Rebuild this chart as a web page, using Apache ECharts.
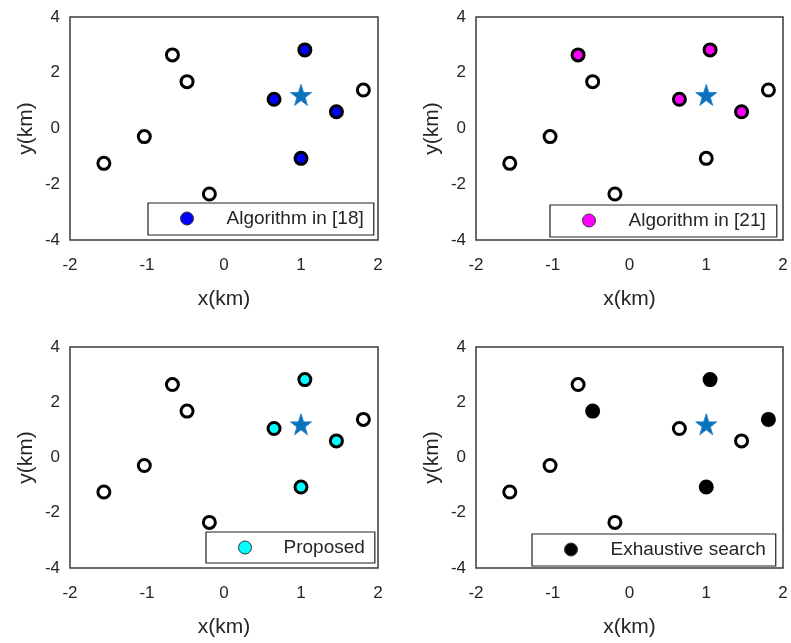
<!DOCTYPE html>
<html>
<head>
<meta charset="utf-8">
<title>Sensor selection</title>
<script src="https://cdn.jsdelivr.net/npm/echarts@6.0.0/dist/echarts.min.js"></script>
<style>
    html, body { margin: 0; padding: 0; background: #fff; }
    #chart { width: 791px; height: 643px; }
</style>
</head>
<body>
<div id="chart"></div>
<script>
// sensor positions (km)
var sensorX = [-0.67, -0.48, -1.035, -1.56, -0.19, 1.05, 0.65, 1.46, 1.81, 1.0];
var sensorY = [2.64, 1.68, -0.29, -1.25, -2.35, 2.82, 1.05, 0.60, 1.38, -1.07];
// target
var targetX = [1.0];
var targetY = [1.24];

// chosen sensors (index into sensorX/sensorY) for each method
var methodNames = ['Algorithm in [18]', 'Algorithm in [21]', 'Proposed', 'Exhaustive search'];
var methodColors = ['#0000ff', '#ff00ff', '#00ffff', '#000000'];
var methodPicked = [
    [5, 6, 7, 9],
    [0, 5, 6, 7],
    [5, 6, 7, 9],
    [1, 5, 8, 9]
];

var xTicks = [-2, -1, 0, 1, 2];
var yTicks = [-4, -2, 0, 2, 4];

var font = "'Liberation Sans', Arial, sans-serif";
var textColor = '#262626';
var starPath = 'path://M50,0 L61.8,35.1 L98.1,35.1 L68.8,56.7 L79.4,90.5 L50,69.4 L20.6,90.5 L31.2,56.7 L1.9,35.1 L38.2,35.1 Z';

// layout of the four panels
var grids = [
    {left: 70, top: 17, width: 308, height: 223},
    {left: 476, top: 17, width: 307, height: 223},
    {left: 70, top: 347, width: 308, height: 221},
    {left: 476, top: 347, width: 307, height: 221}
];
// legend boxes: left, top, padding [t, r, b, l], gap between marker and text
var legendBoxes = [
    {left: 148, top: 203, padding: [6, 10, 7, 32], textGap: 28},
    {left: 550, top: 205, padding: [6, 11, 7, 32], textGap: 28},
    {left: 206, top: 532, padding: [6, 10, 6, 32], textGap: 27},
    {left: 532, top: 534, padding: [6, 10, 7, 32], textGap: 28}
];

var option = {
    animation: false,
    backgroundColor: '#fff',
    textStyle: {fontFamily: font},
    grid: [],
    xAxis: [],
    yAxis: [],
    legend: [],
    series: []
};

for (var g = 0; g < 4; g++) {
    option.grid.push({
        left: grids[g].left,
        top: grids[g].top,
        width: grids[g].width,
        height: grids[g].height,
        show: true,
        borderColor: '#3a3a3a',
        borderWidth: 1.5,
        backgroundColor: '#fff'
    });
    option.xAxis.push({
        gridIndex: g,
        type: 'value',
        min: xTicks[0],
        max: xTicks[xTicks.length - 1],
        interval: 1,
        name: 'x(km)',
        nameLocation: 'middle',
        nameGap: 49,
        nameTextStyle: {fontSize: 21, color: textColor, fontFamily: font},
        axisLine: {show: false},
        axisTick: {show: false},
        splitLine: {show: false},
        axisLabel: {fontSize: 17, color: textColor, margin: 17, fontFamily: font}
    });
    option.yAxis.push({
        gridIndex: g,
        type: 'value',
        min: yTicks[0],
        max: yTicks[yTicks.length - 1],
        interval: 2,
        name: 'y(km)',
        nameLocation: 'middle',
        nameGap: 33,
        nameTextStyle: {fontSize: 21, color: textColor, fontFamily: font},
        axisLine: {show: false},
        axisTick: {show: false},
        splitLine: {show: false},
        axisLabel: {fontSize: 17, color: textColor, margin: 10, fontFamily: font}
    });

    var picked = methodPicked[g];
    var hollow = [];
    var filled = [];
    for (var i = 0; i < sensorX.length; i++) {
        if (picked.indexOf(i) >= 0) {
            filled.push([sensorX[i], sensorY[i]]);
        } else {
            hollow.push([sensorX[i], sensorY[i]]);
        }
    }

    option.series.push({
        name: 'Sensors ' + g,
        type: 'scatter',
        xAxisIndex: g,
        yAxisIndex: g,
        symbol: 'circle',
        symbolSize: 12,
        itemStyle: {color: '#fff', borderColor: '#000', borderWidth: 3, opacity: 1},
        data: hollow
    });
    option.series.push({
        name: methodNames[g],
        type: 'scatter',
        xAxisIndex: g,
        yAxisIndex: g,
        symbol: 'circle',
        symbolSize: 12,
        itemStyle: {color: methodColors[g], borderColor: '#000', borderWidth: 3, opacity: 1},
        data: filled
    });
    option.series.push({
        name: 'Target ' + g,
        type: 'scatter',
        xAxisIndex: g,
        yAxisIndex: g,
        symbol: starPath,
        symbolSize: 21,
        symbolOffset: [0, 1],
        itemStyle: {color: '#0a72bd', borderColor: '#2a86cc', borderWidth: 1, opacity: 1},
        data: [[targetX[0], targetY[0]]]
    });

    option.legend.push({
        data: [{name: methodNames[g], icon: 'circle'}],
        left: legendBoxes[g].left,
        top: legendBoxes[g].top,
        orient: 'horizontal',
        padding: legendBoxes[g].padding,
        itemWidth: 13,
        itemHeight: 13,
        borderColor: '#222',
        borderWidth: 1.2,
        backgroundColor: '#fff',
        selectedMode: false,
        itemStyle: {color: methodColors[g], borderColor: '#333', borderWidth: 1, opacity: 1},
        textStyle: {
            fontSize: 19,
            color: textColor,
            fontFamily: font,
            padding: [0, 0, 0, legendBoxes[g].textGap]
        }
    });
}

var myChart = echarts.init(document.getElementById('chart'));
myChart.setOption(option);
</script>
</body>
</html>
